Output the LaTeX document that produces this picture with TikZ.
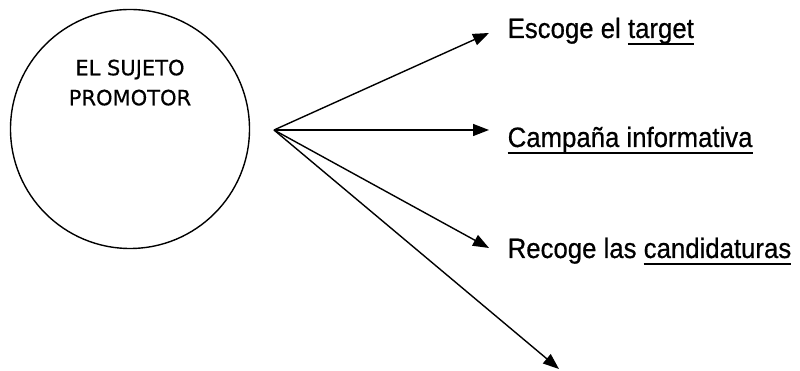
\documentclass[tikz,border=0pt]{standalone}
\usepackage{fontspec}
\usetikzlibrary{arrows.meta}
\newfontfamily\circfont[FakeBold=0.6]{DejaVu Sans}
\newfontfamily\labfont[FakeStretch=0.92, FakeBold=0.6]{Liberation Sans}
\newcommand{\undl}[1]{\setbox0\hbox{#1}\rlap{\rule[-7.5pt]{\wd0}{2pt}}\box0}
\tikzset{
    lab/.style = {anchor = base west, inner sep = 0pt, font = \labfont\fontsize{28}{32}\selectfont},
    flecha/.style = {-{Triangle[length = 16pt, width = 12pt]}}
}
\begin{document}
\begin{tikzpicture}[x = 1pt, y = 1pt, line width = 1.4pt]
        \useasboundingbox (0, 0) rectangle (800, 371);
        \draw
            (130, 242) node (promotor) [draw, circle, minimum size = 239pt, inner sep = 0pt] {}
            (130, 312) node (nombre) [anchor = north, align = center, inner sep = 0pt,
                font = \circfont\fontsize{21}{30}\selectfont] {EL SUJETO\\PROMOTOR}

            (274, 241) coordinate (src)
            (489, 338) coordinate (t1)
            (489, 241) coordinate (t2)
            (489, 123) coordinate (t3)
            (559, 2) coordinate (t4)

            (507, 333) node (target) [lab] {Escoge el \undl{target}}
            (507, 224) node (campana) [lab] {\undl{Campaña informativa}}
            (507, 113) node (candid) [lab] {Recoge las \undl{candidaturas}}

            (src) edge [flecha] (t1)
            (src) edge [flecha] (t2)
            (src) edge [flecha] (t3)
            (src) edge [flecha] (t4)
        ;
    \end{tikzpicture}
\end{document}
